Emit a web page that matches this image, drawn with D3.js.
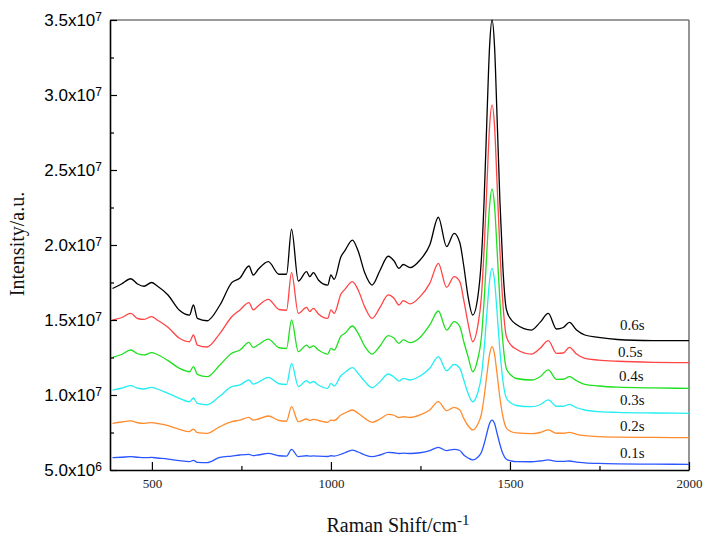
<!DOCTYPE html>
<html>
<head>
<meta charset="utf-8">
<script src="https://cdn.jsdelivr.net/npm/d3@7/dist/d3.min.js"></script>
<style>
  html, body { margin: 0; padding: 0; background: #fff; }
  svg { display: block; }
</style>
</head>
<body>
<svg id="chart" width="705" height="541"></svg>
<script>
// Raman shift positions (cm^-1)
const shifts = [390,415,441,460,478,499,515,545,577,605,616,627,654,690,723,746,771,783,797,825,855,876,890,909,932,941,951,965,991,1000,1009,1028,1039,1060,1076,1095,1115,1137,1160,1176,1190,1202,1221,1249,1276,1300,1323,1344,1360,1371,1383,1396,1410,1420,1428,1436,1443,1450,1457,1464,1472,1480,1490,1504,1518,1560,1584,1607,1630,1649,1666,1686,1709,1747,1800,1900,2000];

// Intensities in units of 10^6
const s06 = [17.1,17.4,17.75,17.4,17.25,17.5,17.27,16.67,15.65,15.33,16.0,15.11,14.95,16.0,17.49,17.8,18.6,18.0,18.38,18.89,18.05,18.05,21.05,17.6,18.22,17.89,18.16,17.67,17.33,18.0,17.71,19.22,19.62,20.33,19.6,18.11,17.33,18.3,19.25,18.95,18.44,18.7,18.49,19.0,20.0,21.85,19.89,20.78,20.15,18.6,16.56,15.33,16.5,19.0,23.1,28.7,33.2,35.0,33.2,28.5,22.9,18.6,15.7,15.0,14.7,14.33,14.84,15.44,14.4,14.5,14.84,14.33,14.0,13.84,13.7,13.63,13.62];
const s05 = [15.0,15.15,15.44,15.1,15.04,15.22,15.0,14.51,13.78,13.55,14.0,13.33,13.2,14.11,15.22,15.67,16.16,15.67,15.95,16.38,15.7,15.65,18.16,15.44,15.84,15.56,15.78,15.4,15.11,15.67,15.44,16.73,17.04,17.56,17.0,15.84,15.11,15.84,16.67,16.45,16.0,16.29,16.07,16.56,17.44,18.78,17.18,17.89,17.56,16.33,14.78,13.55,14.6,16.5,19.8,24.2,27.9,29.33,27.9,24.1,19.6,16.2,13.9,13.3,13.05,12.73,13.11,13.62,12.78,12.8,13.18,12.73,12.44,12.33,12.25,12.18,12.16];
const s04 = [12.5,12.7,13.0,12.75,12.67,12.82,12.7,12.29,11.78,11.55,11.89,11.38,11.22,12.0,12.78,13.0,13.51,13.16,13.35,13.73,13.15,13.1,15.0,12.89,13.33,13.15,13.27,13.0,12.73,13.11,13.0,13.93,14.11,14.6,14.11,13.22,12.73,13.27,13.96,13.8,13.44,13.67,13.49,13.84,14.67,15.6,14.33,14.89,14.56,13.55,12.56,11.55,12.4,13.8,16.4,19.8,22.6,23.73,22.6,19.7,16.25,13.6,11.75,11.3,11.1,11.0,11.22,11.67,11.04,11.05,11.22,10.95,10.71,10.6,10.52,10.47,10.44];
const s03 = [10.33,10.45,10.62,10.45,10.4,10.51,10.4,10.11,9.78,9.55,9.8,9.44,9.35,9.93,10.56,10.67,11.0,10.73,10.85,11.18,10.75,10.7,12.11,10.56,10.96,10.8,10.9,10.67,10.44,10.78,10.6,11.3,11.5,11.82,11.44,10.89,10.49,10.89,11.4,11.2,10.93,11.11,11.0,11.27,11.78,12.56,11.62,12.04,11.78,11.0,10.11,9.55,10.15,11.25,13.1,15.6,17.6,18.44,17.6,15.5,12.95,11.0,9.8,9.45,9.3,9.22,9.35,9.67,9.25,9.25,9.38,9.15,9.0,8.89,8.84,8.8,8.78];
const s02 = [8.11,8.2,8.27,8.15,8.11,8.16,8.1,7.96,7.71,7.56,7.73,7.49,7.44,7.89,8.22,8.33,8.51,8.33,8.4,8.6,8.3,8.25,9.22,8.22,8.4,8.3,8.38,8.3,8.18,8.33,8.3,8.67,8.8,9.0,8.78,8.44,8.18,8.4,8.71,8.65,8.49,8.55,8.5,8.67,9.0,9.56,8.96,9.18,9.0,8.44,7.95,7.67,8.05,8.7,9.9,11.45,12.7,13.22,12.7,11.4,9.8,8.6,7.8,7.55,7.47,7.42,7.5,7.67,7.45,7.45,7.51,7.38,7.29,7.22,7.19,7.17,7.16];
const s01 = [5.82,5.85,5.89,5.85,5.82,5.84,5.8,5.73,5.62,5.56,5.64,5.51,5.49,5.84,5.93,6.0,6.04,5.96,6.0,6.11,5.95,5.92,6.38,5.89,5.95,5.92,5.94,5.92,5.9,5.95,5.93,6.05,6.15,6.33,6.2,6.0,5.89,6.0,6.18,6.15,6.1,6.12,6.1,6.15,6.29,6.51,6.29,6.38,6.3,6.0,5.8,5.67,5.85,6.17,6.75,7.5,8.1,8.33,8.1,7.45,6.7,6.1,5.72,5.6,5.56,5.55,5.6,5.67,5.57,5.57,5.6,5.52,5.48,5.44,5.41,5.39,5.38];

const seriesNames = ["0.6s","0.5s","0.4s","0.3s","0.2s","0.1s"];
const seriesValues = [s06, s05, s04, s03, s02, s01];
const seriesColors = ["#000000","#ff4545","#1ee01e","#22eef2","#ff8c2e","#2a55ff"];

const xMajorTicks = [500, 1000, 1500, 2000];
const xMinorTicks = [750, 1250, 1750];
const yMajorTicks = [5, 10, 15, 20, 25, 30, 35];
const yMinorTicks = [7.5, 12.5, 17.5, 22.5, 27.5, 32.5];

const svg = d3.select("#chart");
const L = 110, R = 689, T = 20, B = 470;

const x = d3.scaleLinear().domain([383, 2000]).range([L, R]);
const y = d3.scaleLinear().domain([5, 35]).range([B, T]);

const serif = "'Palatino Linotype','Book Antiqua',Palatino,'Liberation Serif',serif";

// frame top/right
svg.append("line").attr("x1", L).attr("x2", R).attr("y1", T).attr("y2", T)
  .attr("stroke", "#7a7a7a").attr("stroke-width", 1.6);
svg.append("line").attr("x1", R).attr("x2", R).attr("y1", T).attr("y2", B)
  .attr("stroke", "#7a7a7a").attr("stroke-width", 1.6);

// lines
const line = d3.line().x((d, i) => x(shifts[i])).y(d => y(d)).curve(d3.curveMonotoneX);
seriesValues.forEach((vals, k) => {
  svg.append("path").datum(vals).attr("d", line)
    .attr("fill", "none").attr("stroke", seriesColors[k]).attr("stroke-width", 1.3);
});

// x axis
const xAxis = svg.append("g").attr("transform", `translate(0,${B})`)
  .call(d3.axisBottom(x).tickValues(xMajorTicks).tickSize(-8).tickSizeOuter(0).tickPadding(9)
    .tickFormat(d3.format("d")));
xAxis.selectAll("text").attr("font-family", serif)
  .attr("font-size", "13px").attr("fill", "#222");
svg.append("g").attr("transform", `translate(0,${B})`)
  .call(d3.axisBottom(x).tickValues(xMinorTicks).tickSize(-4).tickSizeOuter(0).tickFormat(""))
  .select(".domain").remove();

// y axis
const yAxis = svg.append("g").attr("transform", `translate(${L},0)`)
  .call(d3.axisLeft(y).tickValues(yMajorTicks).tickSize(-7).tickSizeOuter(0).tickPadding(8));
yAxis.selectAll(".tick text").each(function(d) {
  const v = d * 1e6;
  const e = Math.floor(Math.log10(v));
  const m = (v / Math.pow(10, e)).toFixed(1);
  const t = d3.select(this);
  t.text(null).attr("font-family", "'Liberation Sans',Arial,sans-serif").attr("font-size", "17px").attr("fill", "#000");
  t.append("tspan").text(m + "x10");
  t.append("tspan").attr("dy", "-0.45em").attr("font-size", "12px").text(e);
});
svg.append("g").attr("transform", `translate(${L},0)`)
  .call(d3.axisLeft(y).tickValues(yMinorTicks).tickSize(-4).tickSizeOuter(0).tickFormat(""))
  .select(".domain").remove();

svg.selectAll(".domain").attr("stroke", "#000").attr("stroke-width", 1.6);
svg.selectAll(".tick line").attr("stroke", "#000").attr("stroke-width", 1.2);

// series labels
const labelY = [330, 357, 381, 405, 431, 458];
const labelX = [620, 618, 619, 620, 620, 620];
seriesNames.forEach((n, k) => {
  svg.append("text").attr("x", labelX[k]).attr("y", labelY[k]).text(n)
    .attr("font-family", serif).attr("font-size", "15px").attr("fill", "#111");
});

// axis titles
const xt = svg.append("text").attr("x", 398).attr("y", 532).attr("text-anchor", "middle")
  .attr("font-family", serif).attr("font-size", "20px").attr("fill", "#111");
xt.append("tspan").text("Raman Shift/cm");
xt.append("tspan").attr("dy", "-0.5em").attr("font-size", "15px").text("-1");

svg.append("text").attr("transform", "translate(24,244) rotate(-90)").attr("text-anchor", "middle")
  .attr("font-family", serif).attr("font-size", "20px").attr("fill", "#111").text("Intensity/a.u.");
</script>
</body>
</html>
